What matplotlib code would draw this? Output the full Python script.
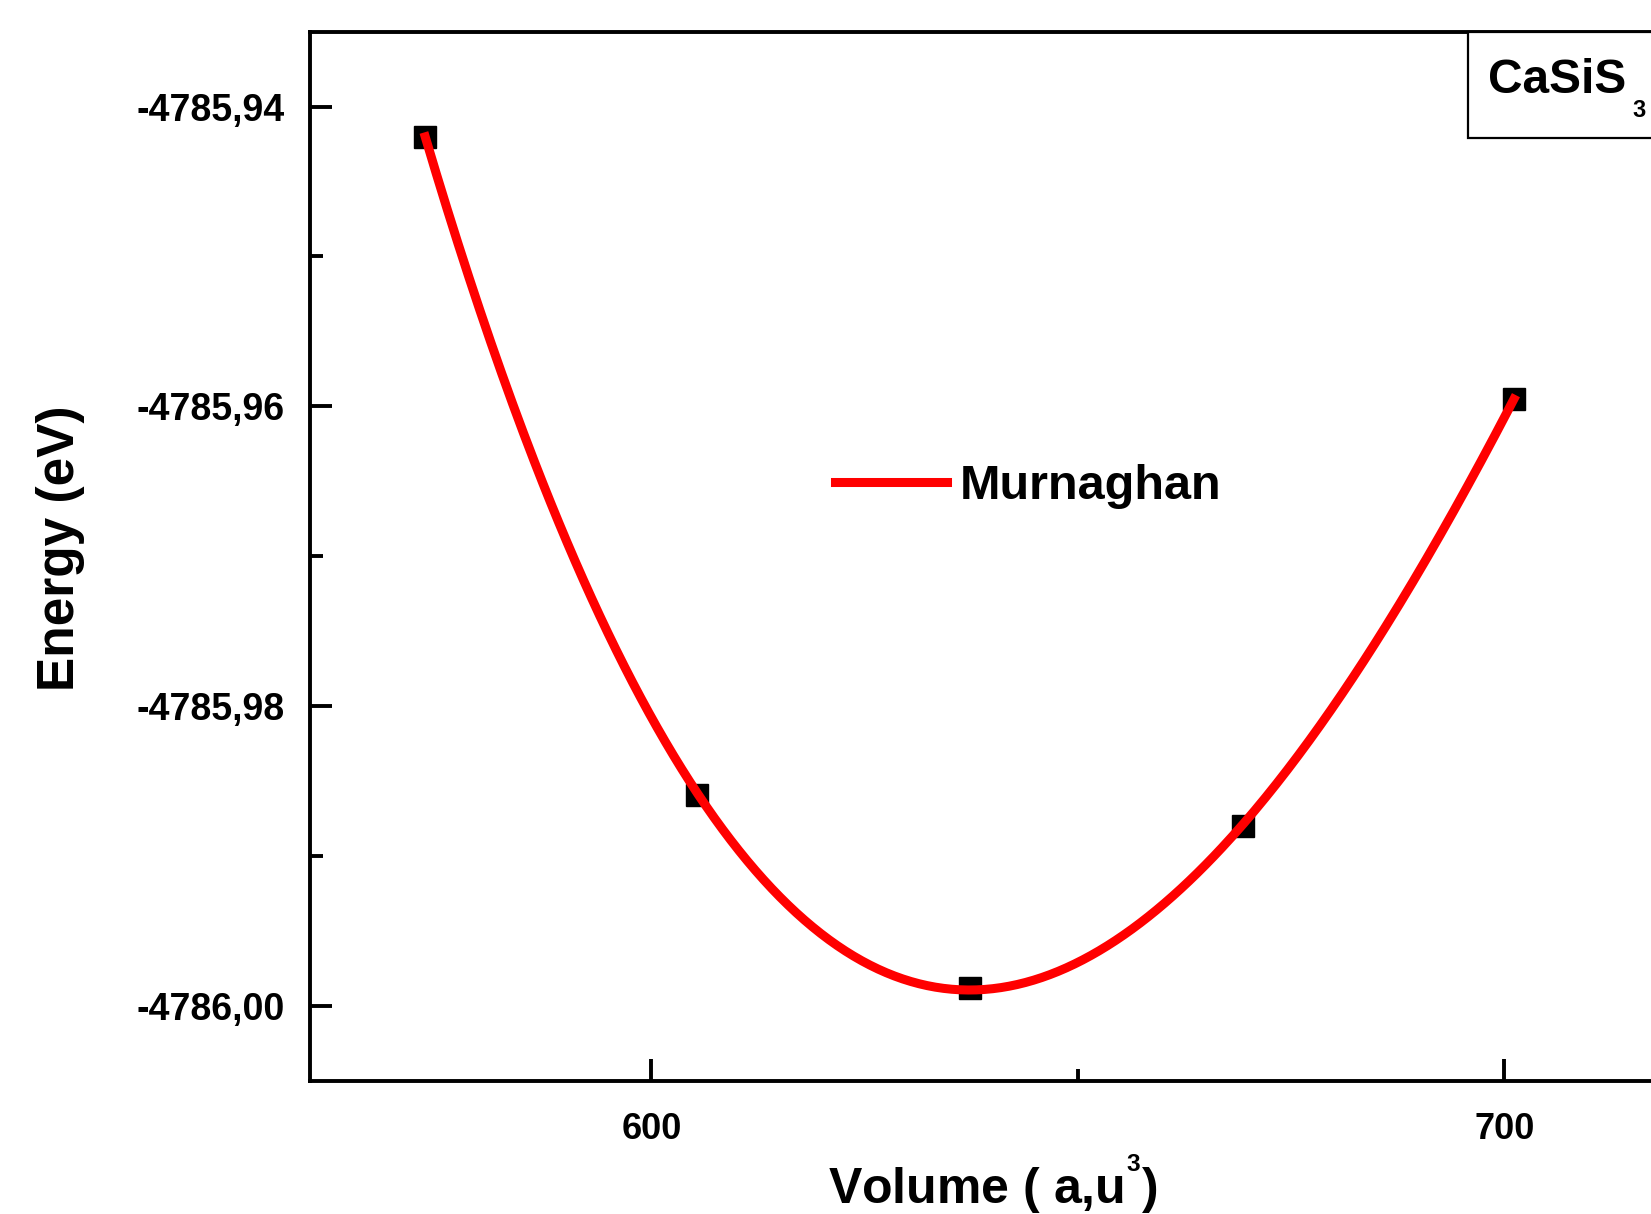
import numpy as np
import matplotlib
matplotlib.use("Agg")
import matplotlib.pyplot as plt
from matplotlib.ticker import MultipleLocator, FuncFormatter
from matplotlib.patches import Rectangle

# E(V) points
volume = [573.5, 605.4, 637.4, 669.3, 701.1]
energy = [-4785.9420, -4785.9859, -4785.9988, -4785.9880, -4785.9595]
fit_label = "Murnaghan"
compound = "CaSiS"

plt.rcParams["font.family"] = ["Liberation Sans", "DejaVu Sans"]
plt.rcParams["font.weight"] = "bold"
plt.rcParams["mathtext.fontset"] = "custom"
plt.rcParams["mathtext.rm"] = "Liberation Sans:bold"
plt.rcParams["mathtext.it"] = "Liberation Sans:bold"
plt.rcParams["mathtext.bf"] = "Liberation Sans:bold"

fig = plt.figure(figsize=(16.51, 12.14), dpi=100)
ax = fig.add_axes([0.1878, 0.1096, 0.8268, 0.8644])

# smooth fit curve through the points (stands in for the Murnaghan EOS fit)
v = np.asarray(volume)
e = np.asarray(energy)
vc = v.mean()
coef = np.polyfit(v - vc, e - e.mean(), 3)
vv = np.linspace(v.min(), v.max(), 400)
ee = np.polyval(coef, vv - vc) + e.mean()

ax.plot(v, e, ls="none", marker="s", ms=16, color="black", zorder=2)
ax.plot(vv, ee, color="#ff0000", lw=6.5, label=fit_label, zorder=3)

ax.set_xlim(560, 720)
ax.set_ylim(-4786.005, -4785.935)

ax.xaxis.set_major_locator(MultipleLocator(100))
ax.xaxis.set_minor_locator(MultipleLocator(50))
ax.yaxis.set_major_locator(MultipleLocator(0.02))
ax.yaxis.set_minor_locator(MultipleLocator(0.01))
ax.yaxis.set_major_formatter(FuncFormatter(lambda y, p: ("%.2f" % y).replace(".", ",")))
ax.xaxis.set_major_formatter(FuncFormatter(lambda x, p: "%d" % round(x)))

ax.tick_params(which="both", direction="in", top=False, right=False, width=2.8)
ax.tick_params(which="major", length=16)
ax.tick_params(which="minor", length=9)
ax.tick_params(axis="y", which="major", labelsize=27, pad=18)
ax.tick_params(axis="x", which="major", labelsize=26, pad=22)
for s in ax.spines.values():
    s.set_linewidth(2.8)

ax.set_xlabel(r"Volume ( a,u$^{^{3}}$)", fontsize=36, fontweight="bold")
ax.xaxis.label.set_va("baseline")
ax.xaxis.set_label_coords(0.5, -0.117)
ax.set_ylabel("Energy (eV)", fontsize=37, fontweight="bold")
ax.yaxis.label.set_va("center")
ax.yaxis.set_label_coords(-0.183, 0.508)

leg = ax.legend(loc="center left", bbox_to_anchor=(0.506, 0.599),
                bbox_transform=fig.transFigure, frameon=False, fontsize=35,
                handlelength=2.3, handletextpad=0.26, borderpad=0,
                borderaxespad=0)

# compound label box in the top-right corner (runs off the crop)
ax.add_patch(Rectangle((0.848, 0.8986), 0.3, 0.1014, transform=ax.transAxes,
                       facecolor="white", edgecolor="black", lw=1.6,
                       clip_on=False, zorder=5))
fig.text(0.9015, 0.9234, compound, fontsize=34.5, fontweight="bold",
         va="baseline", ha="left", zorder=6)
fig.text(0.9885, 0.9036, "3", fontsize=17, fontweight="bold",
         va="baseline", ha="left", zorder=6)

fig.savefig("out.png", dpi=100)
